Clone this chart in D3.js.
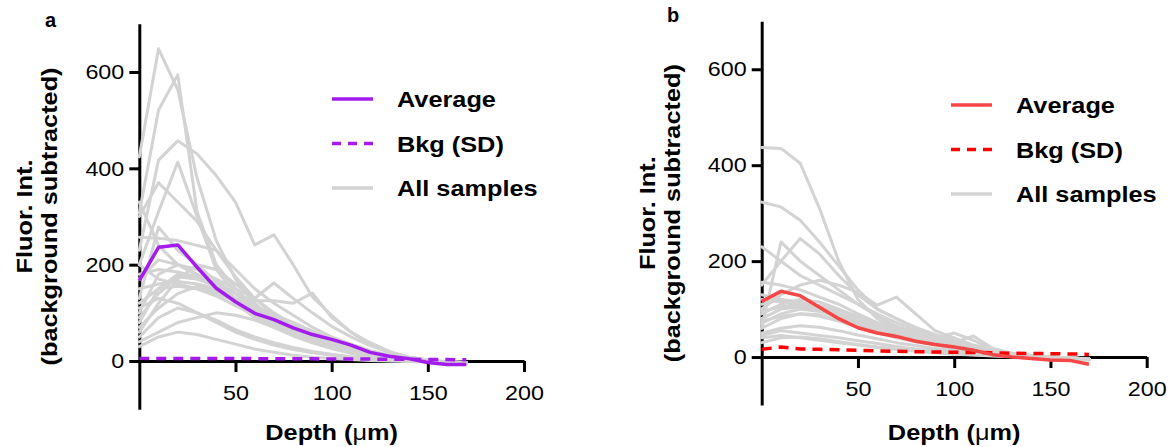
<!DOCTYPE html>
<html>
<head>
<meta charset="utf-8">
<script src="https://cdn.jsdelivr.net/npm/d3@7"></script>
<style>
  body { margin: 0; background: #fff; }
  svg text { font-family: "Liberation Sans", Arial, sans-serif; fill: #000; }
</style>
</head>
<body>
<div id="chart"></div>
<script>
// depth values (um) shared by every trace
var depths = [0, 10, 20, 30, 40, 50, 60, 70, 80, 90, 100, 110, 120, 130, 140, 150, 160, 170];

var yTicks = [0, 200, 400, 600];
var xTicks = [50, 100, 150, 200];
var legendLabels = ["Average", "Bkg (SD)", "All samples"];

// panel a
var avgA = [167, 236, 241, 195, 151, 123, 99, 86, 69, 55, 45, 33, 18, 10, 5, -3, -7, -7];
var bkgA = [5.5, 5, 5, 5, 5, 5, 5, 4.5, 4.5, 4.5, 4, 4, 4, 3.5, 3.5, 3, 3, 2.5];
var samplesA = [
    [424, 648, 563, 380, 250, 170, 120, 85, 60, 42, 28, 18, 10, 5, 1, -2, -4, -6],
    [307, 521, 594, 310, 200, 150, 110, 80, 58, 40, 28, 18, 10, 5, 1, -2, -4, -6],
    [230, 417, 457, 430, 385, 330, 241, 262, 200, 133, 95, 60, 35, 18, 8, 2, -2, -4],
    [200, 310, 413, 300, 190, 140, 105, 80, 60, 45, 32, 22, 14, 8, 3, 0, -3, -5],
    [300, 370, 330, 290, 230, 175, 130, 95, 70, 50, 35, 24, 15, 8, 3, 0, -2, -4],
    [257, 255, 250, 240, 230, 190, 150, 120, 95, 70, 50, 35, 22, 12, 5, 1, -2, -4],
    [130, 278, 230, 200, 165, 140, 115, 90, 70, 50, 35, 22, 13, 7, 3, 0, -3, -5],
    [80, 150, 180, 175, 160, 140, 125, 125, 120, 141, 90, 60, 38, 20, 8, 2, -2, -4],
    [170, 210, 200, 190, 170, 150, 130, 162, 130, 100, 72, 50, 32, 18, 8, 2, -2, -4],
    [60, 120, 170, 200, 190, 160, 130, 100, 75, 55, 38, 25, 15, 8, 3, 0, -2, -4],
    [100, 180, 200, 180, 160, 130, 105, 85, 65, 48, 35, 24, 15, 8, 3, 0, -2, -4],
    [40, 60, 80, 90, 100, 95, 85, 70, 55, 40, 28, 18, 10, 5, 2, 0, -2, -3],
    [200, 170, 160, 150, 135, 115, 95, 75, 58, 42, 30, 20, 12, 6, 2, 0, -2, -3],
    [150, 160, 165, 160, 150, 130, 110, 88, 68, 50, 35, 22, 13, 7, 3, 0, -2, -4],
    [70, 110, 140, 155, 145, 125, 100, 80, 60, 45, 32, 20, 12, 6, 2, 0, -2, -3],
    [90, 140, 175, 170, 155, 120, 90, 70, 52, 38, 26, 16, 9, 4, 1, -1, -3, -4],
    [50, 90, 110, 100, 85, 65, 50, 38, 28, 20, 14, 9, 5, 2, 0, -1, -2, -3],
    [120, 150, 155, 150, 140, 125, 110, 95, 80, 62, 45, 30, 18, 10, 4, 1, -2, -4],
    [180, 190, 185, 175, 160, 140, 115, 95, 78, 60, 45, 30, 18, 10, 4, 1, -2, -4],
    [30, 50, 60, 55, 45, 35, 25, 18, 12, 8, 5, 3, 1, 0, -1, -2, -3, -4],
    [110, 130, 120, 100, 80, 60, 45, 33, 24, 17, 12, 8, 4, 2, 0, -1, -2, -3],
    [330, 240, 200, 180, 160, 130, 100, 75, 55, 40, 28, 18, 10, 5, 2, 0, -2, -4]
];

// panel b
var avgB = [116, 137, 128, 104, 80, 61, 50, 43, 33, 26, 21, 14, 5, 0, -3, -6, -7, -15];
var bkgB = [16, 21, 17, 16, 15, 14, 13, 12, 11, 10.5, 10, 9.5, 9, 8, 7.5, 7, 6.5, 5.5];
var samplesB = [
    [437, 435, 404, 310, 200, 120, 80, 60, 45, 30, 20, 12, 7, 4, 2, 0, -3, -6],
    [323, 313, 285, 240, 190, 140, 100, 80, 60, 45, 32, 20, 12, 6, 2, 0, -3, -6],
    [230, 200, 170, 150, 130, 110, 90, 72, 55, 40, 30, 20, 12, 6, 2, 0, -2, -4],
    [60, 240, 200, 170, 140, 110, 85, 65, 50, 38, 28, 18, 10, 5, 2, 0, -3, -5],
    [150, 200, 247, 215, 170, 130, 100, 80, 62, 47, 35, 22, 13, 7, 3, 0, -3, -5],
    [100, 130, 150, 160, 150, 135, 108, 125, 90, 55, 40, 25, 15, 8, 3, 0, -2, -4],
    [156, 150, 140, 125, 110, 90, 72, 58, 45, 35, 26, 18, 11, 6, 2, 0, -2, -4],
    [120, 115, 110, 100, 88, 75, 62, 52, 45, 40, 50, 35, 15, 7, 3, 0, -3, -5],
    [90, 110, 120, 115, 100, 82, 66, 54, 45, 38, 30, 44, 18, 8, 3, 0, -2, -4],
    [80, 100, 105, 100, 90, 75, 60, 48, 38, 30, 22, 15, 9, 5, 2, 0, -2, -4],
    [70, 90, 100, 95, 85, 70, 56, 45, 35, 27, 20, 14, 8, 4, 1, -1, -3, -5],
    [50, 60, 65, 62, 55, 46, 38, 30, 24, 18, 13, 9, 5, 2, 0, -1, -3, -4],
    [130, 120, 115, 105, 92, 78, 65, 53, 43, 34, 26, 18, 11, 6, 2, 0, -2, -4],
    [40, 45, 40, 35, 30, 25, 20, 16, 12, 9, 6, 4, 2, 1, 0, -1, -3, -4],
    [110, 120, 112, 100, 85, 70, 58, 48, 40, 32, 25, 18, 11, 6, 2, 0, -2, -4],
    [60, 80, 90, 88, 78, 64, 52, 42, 34, 27, 20, 13, 8, 4, 1, -1, -3, -5],
    [30, 40, 42, 38, 32, 26, 21, 17, 13, 10, 7, 5, 3, 1, 0, -2, -3, -5],
    [95, 105, 110, 108, 98, 85, 70, 57, 46, 36, 28, 20, 12, 6, 2, 0, -2, -4],
    [75, 85, 90, 85, 75, 62, 50, 40, 32, 25, 18, 12, 7, 3, 1, -1, -3, -5],
    [45, 55, 50, 45, 40, 34, 28, 22, 17, 13, 9, 6, 3, 1, 0, -1, -2, -3]
];

var width = 1170, height = 447;

var svg = d3.select("#chart").append("svg")
    .attr("width", width)
    .attr("height", height);

function drawPanel(opts) {
    var g = svg.append("g");

    var xScale = d3.scaleLinear().domain([0, 200]).range(opts.xRange);
    var yScale = d3.scaleLinear().domain([-100, 700]).range(opts.yRange);

    // axes first, traces go on top of them
    var yAxis = g.append("g")
        .attr("transform", "translate(" + xScale(0) + ",0)")
        .call(d3.axisLeft(yScale).tickValues(yTicks).tickSize(10).tickPadding(5).tickSizeOuter(0));

    var xAxis = g.append("g")
        .attr("transform", "translate(0," + yScale(0) + ")")
        .call(d3.axisBottom(xScale).tickValues(xTicks).tickSize(11).tickPadding(13).tickSizeOuter(0));

    [xAxis, yAxis].forEach(function(ax) {
        ax.select(".domain").attr("stroke", "#000").attr("stroke-width", 3);
        ax.selectAll(".tick line").attr("stroke", "#000").attr("stroke-width", 3);
        ax.selectAll(".tick text")
            .attr("class", "stretch tick-label")
            .style("font-size", "21px");
    });

    var line = d3.line()
        .x(function(d, i) { return xScale(depths[i]); })
        .y(function(d) { return yScale(d); });

    g.selectAll(".sample")
        .data(opts.samples)
        .enter().append("path")
        .attr("class", "sample")
        .attr("d", line)
        .attr("fill", "none")
        .attr("stroke", "#d3d3d3")
        .attr("stroke-width", 3)
        .attr("stroke-linejoin", "round")
        .attr("stroke-linecap", "round");

    g.append("path")
        .datum(opts.bkg)
        .attr("d", line)
        .attr("fill", "none")
        .attr("stroke", opts.bkgColor)
        .attr("stroke-width", 3.5)
        .attr("stroke-dasharray", "10,7");

    g.append("path")
        .datum(opts.avg)
        .attr("d", line)
        .attr("fill", "none")
        .attr("stroke", opts.avgColor)
        .attr("stroke-width", 3.5)
        .attr("stroke-linejoin", "round");

    // axis titles
    g.append("text")
        .attr("class", "stretch")
        .attr("x", xScale(100))
        .attr("y", 440)
        .attr("text-anchor", "middle")
        .style("font-size", "22px")
        .style("font-weight", "bold")
        .html("Depth (<tspan style='font-weight:normal'>μ</tspan>m)");

    var yMid = (opts.yRange[0] + opts.yRange[1]) / 2;
    var titleLines = ["Fluor. Int.", "(background subtracted)"];
    titleLines.forEach(function(t, i) {
        g.append("text")
            .attr("class", "stretch")
            .attr("transform", "translate(" + (xScale(0) - 107 + i * 25) + "," + yMid + ") rotate(-90)")
            .attr("text-anchor", "middle")
            .style("font-size", "22px")
            .style("font-weight", "bold")
            .text(t);
    });

    // panel letter
    g.append("text")
        .attr("x", opts.labelPos[0])
        .attr("y", opts.labelPos[1])
        .style("font-size", "20px")
        .style("font-weight", "bold")
        .text(opts.label);

    // legend
    var lg = g.append("g")
        .attr("transform", "translate(" + opts.legendPos[0] + "," + opts.legendPos[1] + ")");
    var styles = [
        { color: opts.avgColor, dash: null },
        { color: opts.bkgColor, dash: "9,7" },
        { color: "#d3d3d3", dash: null }
    ];
    legendLabels.forEach(function(name, i) {
        var row = lg.append("g").attr("transform", "translate(0," + (i * 44.5) + ")");
        row.append("line")
            .attr("x1", 0).attr("x2", 41)
            .attr("y1", 0).attr("y2", 0)
            .attr("stroke", styles[i].color)
            .attr("stroke-width", 3.5)
            .attr("stroke-dasharray", styles[i].dash);
        row.append("text")
            .attr("class", "stretch")
            .attr("x", 65)
            .attr("y", 8)
            .style("font-size", "22px")
            .style("font-weight", "bold")
            .text(name);
    });
}

drawPanel({
    label: "a",
    labelPos: [45, 27],
    xRange: [139.3, 524],
    yRange: [409.2, 23.8],
    samples: samplesA,
    avg: avgA,
    bkg: bkgA,
    avgColor: "#a31cec",
    bkgColor: "#a31cec",
    legendPos: [332, 99]
});

drawPanel({
    label: "b",
    labelPos: [667, 22],
    xRange: [761.7, 1146.7],
    yRange: [405, 21.3],
    samples: samplesB,
    avg: avgB,
    bkg: bkgB,
    avgColor: "#f64646",
    bkgColor: "#ff0000",
    legendPos: [951, 105]
});

// the reference type is set wider than Arial, so widen the glyphs a bit
svg.selectAll("text.stretch").each(function() {
    var k = d3.select(this).classed("tick-label") ? 1.11 : 1.15;
    var w = this.getComputedTextLength();
    d3.select(this)
        .attr("textLength", w * k)
        .attr("lengthAdjust", "spacingAndGlyphs");
});
</script>
</body>
</html>
